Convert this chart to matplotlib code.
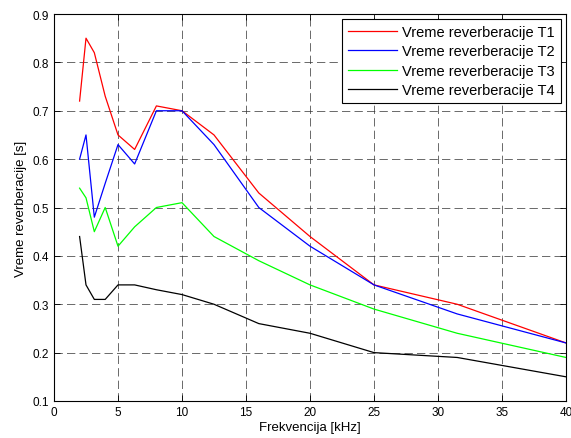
import matplotlib
matplotlib.use("Agg")
import matplotlib.pyplot as plt

freq = [2, 2.5, 3.15, 4, 5, 6.3, 8, 10, 12.5, 16, 20, 25, 31.5, 40]
t1 = [0.72, 0.85, 0.82, 0.73, 0.65, 0.62, 0.71, 0.70, 0.65, 0.53, 0.44, 0.34, 0.30, 0.22]
t2 = [0.60, 0.65, 0.48, 0.55, 0.63, 0.59, 0.70, 0.70, 0.63, 0.50, 0.42, 0.34, 0.28, 0.22]
t3 = [0.54, 0.52, 0.45, 0.50, 0.42, 0.46, 0.50, 0.51, 0.44, 0.39, 0.34, 0.29, 0.24, 0.19]
t4 = [0.44, 0.34, 0.31, 0.31, 0.34, 0.34, 0.33, 0.32, 0.30, 0.26, 0.24, 0.20, 0.19, 0.15]
labels = ["Vreme reverberacije T1", "Vreme reverberacije T2",
          "Vreme reverberacije T3", "Vreme reverberacije T4"]
colors = ["#ff0000", "#0000ff", "#00ff00", "#000000"]
xticks = [0, 5, 10, 15, 20, 25, 30, 35, 40]
yticks = [0.1, 0.2, 0.3, 0.4, 0.5, 0.6, 0.7, 0.8, 0.9]

plt.rcParams['font.family'] = ['Liberation Sans', 'DejaVu Sans']
fig = plt.figure(figsize=(5.71, 4.39), dpi=100)
ax = fig.add_axes([54/571, 1-402/439, (566-54)/571, (402-15)/439])

for y, lab, c in zip([t1, t2, t3, t4], labels, colors):
    ax.plot(freq, y, color=c, lw=0.9, label=lab)

ax.set_xlim(0, 40)
ax.set_ylim(0.1, 0.9)
ax.set_xticks(xticks)
ax.set_yticks(yticks)
ax.set_xticklabels([str(v) for v in xticks])
ax.set_yticklabels([f"{v:g}" for v in yticks])
ax.grid(True, color='#333333', linestyle=(0, (10, 5)), lw=0.6, alpha=0.85)
ax.tick_params(direction='in', top=True, right=True, labelsize=8.5, length=4, width=0.6)
for s in ax.spines.values():
    s.set_linewidth(0.8)
ax.set_xlabel("Frekvencija [kHz]", fontsize=9.5, labelpad=2)
ax.set_ylabel("Vreme reverberacije [s]", fontsize=9.5, labelpad=4)

leg = ax.legend(loc='upper right', fontsize=10.5, fancybox=False, framealpha=1,
                edgecolor='black', borderaxespad=0.35, handlelength=3.4,
                labelspacing=0.37, borderpad=0.4, handletextpad=0.35)
leg.get_frame().set_linewidth(0.8)

fig.savefig("out.png", dpi=100)
